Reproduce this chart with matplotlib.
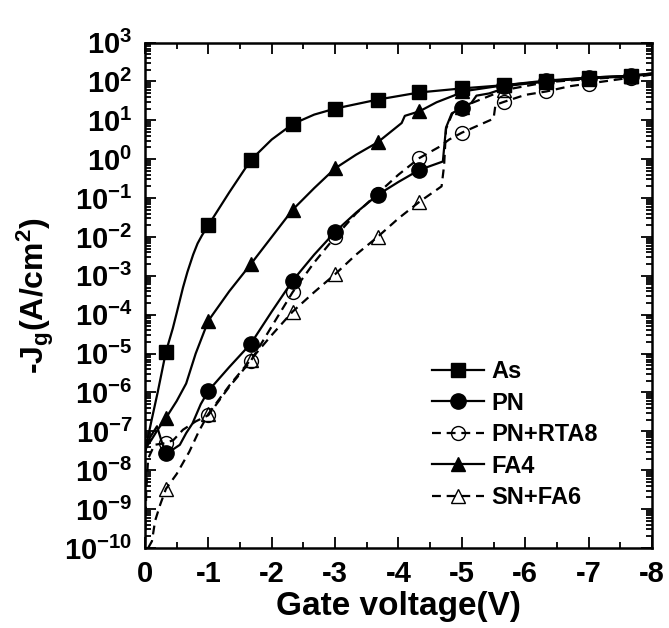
import numpy as np
import matplotlib
matplotlib.use('Agg')
import matplotlib.pyplot as plt
from matplotlib.ticker import FixedLocator, FuncFormatter, LogLocator, MultipleLocator

plt.rcParams['font.family'] = ['Liberation Sans', 'DejaVu Sans']
plt.rcParams['mathtext.fontset'] = 'custom'
plt.rcParams['mathtext.rm'] = 'Liberation Sans:bold'
plt.rcParams['mathtext.bf'] = 'Liberation Sans:bold'
plt.rcParams['mathtext.it'] = 'Liberation Sans:bold'

# marker voltages (V)
V_MARK = [-0.33, -1.0, -1.67, -2.33, -3.0, -3.67, -4.33, -5.0, -5.67, -6.33, -7.0, -7.67]

# ── As ──
as_v = [0, -0.1, -0.2, -0.33, -0.44, -0.5, -0.6, -0.67, -0.76, -0.83, -0.9, -1.0,
        -1.33, -1.67, -2.0, -2.33, -2.67, -3.0, -3.67, -4.33, -5.0, -5.67, -6.33, -7.0,
        -7.67, -8.0]
as_j = [3e-8, 1.8e-7, 1e-6, 1.1e-5, 4.5e-5, 1.1e-4, 5e-4, 1.26e-3, 3.5e-3, 6.8e-3,
        1.1e-2, 2e-2, 0.14, 0.95, 3.2, 8, 14, 20, 34, 52, 66, 80, 105, 125,
        140, 160]

# ── PN ──
pn_v = [0, -0.08, -0.19, -0.27, -0.33, -0.45, -0.55, -0.65, -0.75, -0.88, -1.0, -1.33,
        -1.67, -2.0, -2.33, -2.67, -3.0, -3.33, -3.67, -4.0, -4.33, -4.70, -4.75, -4.84,
        -5.0, -5.15, -5.23, -5.43, -5.59, -5.67, -6.33, -7.0, -7.67, -8.0]
pn_j = [3e-8, 7e-8, 1.35e-7, 5e-8, 2.8e-8, 3.5e-8, 4.5e-8, 9e-8, 1.6e-7, 5e-7, 1.1e-6, 4.5e-6,
        1.8e-5, 1.2e-4, 7.5e-4, 3.5e-3, 1.35e-2, 4.2e-2, 0.12, 0.26, 0.53, 0.87, 6.5, 15,
        21, 28, 43, 49, 60, 75, 100, 120, 135, 155]

# ── PN+RTA8 ──
rta_v = [0, -0.02, -0.05, -0.15, -0.33, -0.45, -0.6, -0.8, -1.0, -1.33, -1.67, -2.0, -2.33,
         -2.67, -3.0, -3.33, -3.67, -4.0, -4.33, -4.65, -4.8, -5.0, -5.5, -5.53, -5.67,
         -6.0, -6.33, -6.7, -7.0, -7.67, -8.0]
rta_j = [1.2e-10, 3e-9, 2e-8, 4.5e-8, 5e-8, 6e-8, 1.1e-7, 1.8e-7, 2.6e-7, 1.4e-6, 6.5e-6,
         5e-5, 3.8e-4, 2.2e-3, 1e-2, 4e-2, 0.13, 0.4, 1.07, 2.1, 3.2, 4.8, 11, 25, 30,
         45, 55, 75, 88, 125, 150]

# ── FA4 ──
fa4_v = [0, -0.1, -0.2, -0.33, -0.5, -0.65, -0.8, -1.0, -1.33, -1.67, -2.0, -2.33, -2.67,
         -3.0, -3.33, -3.67, -4.05, -4.1, -4.33, -4.6, -4.9, -5.0, -5.67, -6.33, -7.0,
         -7.67, -8.0]
fa4_j = [3.5e-8, 6e-8, 1.1e-7, 2.2e-7, 6e-7, 1.7e-6, 1e-5, 7e-5, 4e-4, 2e-3, 1e-2, 5e-2, 0.18,
         0.58, 1.3, 2.7, 8.5, 13, 17, 29, 45, 55, 80, 100, 125,
         140, 160]

# ── SN+FA6 ──
sn_v = [-0.05, -0.11, -0.16, -0.24, -0.33, -0.5, -0.7, -0.85, -1.0, -1.33, -1.67, -2.0,
        -2.33, -2.67, -3.0, -3.33, -3.67, -4.0, -4.33, -4.68, -4.72, -4.75, -4.85, -5.0,
        -5.67, -6.33, -7.0, -7.67, -8.0]
sn_j = [1e-10, 1.5e-10, 5e-10, 1.3e-9, 3.3e-9, 8e-9, 3e-8, 1e-7, 2.8e-7, 1.5e-6, 7e-6, 3e-5,
        1.2e-4, 3.8e-4, 1.1e-3, 3.5e-3, 1e-2, 3e-2, 8e-2, 0.2, 0.7, 6, 15, 22,
        60, 95, 115, 135, 155]

LABELS = ['As', 'PN', 'PN+RTA8', 'FA4', 'SN+FA6']


def mark_idx(v):
    v = np.round(np.asarray(v, dtype=float), 2)
    return [i for i, x in enumerate(v) if x in V_MARK]


fig = plt.figure(figsize=(6.69, 6.28), dpi=100)
ax = fig.add_axes([0.2167, 0.1274, 0.7579, 0.8049])

lw = 1.6
dash = (0, (4, 2.6))
ax.plot(sn_v, sn_j, ls=dash, color='k', lw=lw, marker='^', ms=10,
        mfc='none', mec='k', mew=1.0, markevery=mark_idx(sn_v), label=LABELS[4], zorder=2)
ax.plot(rta_v, rta_j, ls=dash, color='k', lw=lw, marker='o', ms=10,
        mfc='none', mec='k', mew=1.0, markevery=mark_idx(rta_v), label=LABELS[2], zorder=3)
ax.plot(pn_v, pn_j, ls='-', color='k', lw=lw, marker='o', ms=11,
        markevery=mark_idx(pn_v), label=LABELS[1], zorder=4)
ax.plot(fa4_v, fa4_j, ls='-', color='k', lw=lw, marker='^', ms=10,
        markevery=mark_idx(fa4_v), label=LABELS[3], zorder=5)
ax.plot(as_v, as_j, ls='-', color='k', lw=lw, marker='s', ms=10,
        markevery=mark_idx(as_v), label=LABELS[0], zorder=6)

ax.set_yscale('log')
ax.set_xlim(0, -8)
ax.set_ylim(1e-10, 1e3)

ax.xaxis.set_major_locator(MultipleLocator(1))
ax.xaxis.set_minor_locator(MultipleLocator(0.5))
ax.xaxis.set_major_formatter(FuncFormatter(lambda v, p: '0' if v == 0 else '-%d' % abs(v)))
ax.yaxis.set_major_locator(FixedLocator([10.0 ** k for k in range(-10, 4)]))
ax.yaxis.set_minor_locator(LogLocator(base=10, subs=np.arange(2, 10), numticks=30))
ax.yaxis.set_major_formatter(FuncFormatter(lambda v, p: r'$\mathbf{10^{%d}}$' % round(np.log10(v))))

ax.tick_params(which='both', direction='in', top=True, right=True, width=1.3)
ax.tick_params(which='major', length=8)
ax.tick_params(which='minor', length=4)
ax.tick_params(axis='x', labelsize=21, pad=9)
ax.tick_params(axis='y', labelsize=21, pad=9)
for t in ax.get_xticklabels():
    t.set_fontweight('bold')
for s in ax.spines.values():
    s.set_linewidth(1.8)

ax.set_xlabel('Gate voltage(V)', fontsize=24, fontweight='bold', labelpad=2)
ax.set_ylabel(r'-J$_\mathbf{g}$(A/cm$^\mathbf{2}$)', fontsize=23, fontweight='bold', labelpad=6)

h, l = ax.get_legend_handles_labels()
order = [l.index(n) for n in LABELS]
ax.legend([h[i] for i in order], LABELS, loc='lower right', bbox_to_anchor=(0.935, 0.035),
          frameon=False, prop={'weight': 'bold', 'size': 17}, handlelength=2.2,
          handletextpad=0.3, labelspacing=0.36)

fig.savefig('out.png', dpi=100)
